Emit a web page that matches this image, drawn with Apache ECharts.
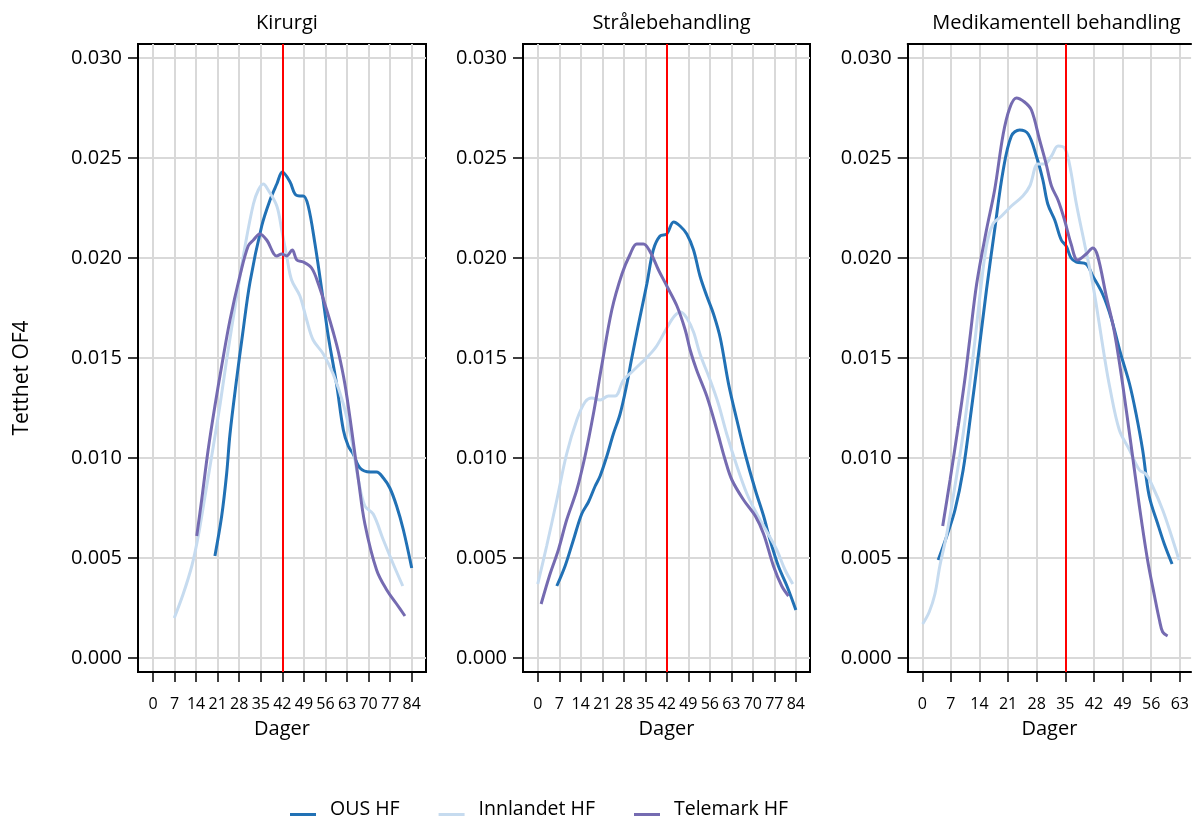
<!DOCTYPE html>
<html><head><meta charset="utf-8">
<script src="https://cdn.jsdelivr.net/npm/echarts@6/dist/echarts.min.js"></script>
<style>html,body{margin:0;padding:0;background:#fff}#chart{width:1192px;height:821px}</style>
</head><body><div id="chart"></div>
<script>
const panelTitles = ['Kirurgi', 'Strålebehandling', 'Medikamentell behandling'];
const seriesNames = ['OUS HF', 'Innlandet HF', 'Telemark HF'];
const seriesColors = ['#2171b5', '#c6dbef', '#756bb1'];
const xTicksWide = [0, 7, 14, 21, 28, 35, 42, 49, 56, 63, 70, 77, 84];
const xTicksNarrow = [0, 7, 14, 21, 28, 35, 42, 49, 56, 63];
const yTicks = [0, 0.005, 0.010, 0.015, 0.020, 0.025, 0.030];
const referenceDays = [42, 42, 35];
const xAxisName = 'Dager';
const yAxisName = 'Tetthet OF4';

// [dager, tetthet]
const kirurgiOUS = [[20.1,0.0051],[22.3,0.0071],[23.9,0.0092],[25,0.0112],[27.2,0.0140],[29.1,0.0162],[31.5,0.0188],[35.3,0.0216],[38,0.0229],[40.2,0.0237],[42,0.0243],[44.5,0.0238],[46.1,0.0232],[47.7,0.0231],[48.8,0.0231],[50.4,0.0226],[52.6,0.0207],[54.8,0.0184],[56.9,0.0161],[59.6,0.0137],[61.8,0.0114],[63.4,0.0106],[65,0.0102],[67.2,0.0095],[70.5,0.0093],[72.6,0.0093],[74.8,0.0090],[76.9,0.0085],[79.1,0.0076],[81.3,0.0064],[84,0.0045]];
const kirurgiInnlandet = [[6.9,0.0020],[9.8,0.0032],[12.6,0.0046],[14.7,0.0061],[16.9,0.0081],[19.6,0.0106],[21.8,0.0127],[23.9,0.0149],[27.2,0.0181],[29.9,0.0206],[32.6,0.0227],[34.2,0.0234],[35.8,0.0237],[37.4,0.0234],[40.2,0.0226],[41.8,0.0214],[43.4,0.0201],[45,0.0189],[47.7,0.0181],[49.9,0.0169],[52,0.0159],[55.3,0.0152],[58.5,0.0142],[61.8,0.0127],[64.5,0.0109],[66.7,0.0089],[68.8,0.0076],[71.5,0.0072],[74.8,0.0059],[78,0.0047],[81.1,0.0036]];
const kirurgiTelemark = [[14.2,0.0061],[15.8,0.0079],[17.9,0.0104],[20.1,0.0126],[22.3,0.0146],[25,0.0169],[28.2,0.0191],[30.9,0.0206],[32.6,0.0209],[34.7,0.0212],[36.9,0.0209],[40.2,0.0201],[41.8,0.0202],[43.4,0.0201],[45.2,0.0204],[46.7,0.0199],[48.8,0.0198],[51.5,0.0195],[53.7,0.0187],[56.4,0.0174],[58.5,0.0163],[60.2,0.0153],[62.3,0.0137],[64.5,0.0114],[66.7,0.0089],[68.8,0.0067],[72.6,0.0044],[75.9,0.0034],[79.1,0.0027],[81.8,0.0021]];

const straaleOUS = [[6.2,0.0036],[8.9,0.0046],[11.6,0.0059],[14.3,0.0072],[16.5,0.0078],[18.7,0.0086],[20.3,0.0091],[22.5,0.0101],[24.6,0.0112],[26.8,0.0122],[29,0.0137],[30.6,0.0150],[32.8,0.0167],[35.5,0.0187],[37.6,0.0204],[39.8,0.0211],[42,0.0212],[44.2,0.0218],[46.3,0.0216],[48.5,0.0212],[50.7,0.0204],[52.8,0.0191],[55,0.0181],[57.2,0.0172],[59.4,0.0160],[62.1,0.0137],[64.8,0.0119],[67.5,0.0102],[70.8,0.0084],[73.5,0.0071],[75.6,0.0059],[78.3,0.0046],[81.1,0.0036],[84,0.0024]];
const straaleInnlandet = [[0,0.0037],[2.9,0.0056],[6.2,0.0079],[9.4,0.0102],[12.7,0.0119],[15.4,0.0128],[17.6,0.0130],[20.3,0.0129],[23,0.0131],[25.2,0.0131],[27.9,0.0139],[30.6,0.0143],[33.3,0.0147],[36,0.0151],[38.7,0.0156],[42,0.0165],[44.5,0.0171],[46.5,0.0173],[48.5,0.0170],[50.7,0.0163],[52.8,0.0152],[56.1,0.0139],[58.8,0.0127],[61.5,0.0112],[64.8,0.0096],[68.1,0.0082],[71.3,0.0072],[74.6,0.0063],[77.8,0.0054],[80.5,0.0044],[83,0.0037]];
const straaleTelemark = [[1.1,0.0027],[4,0.0042],[6.7,0.0054],[9.4,0.0069],[12.7,0.0084],[15.4,0.0101],[18.1,0.0122],[20.8,0.0146],[24.1,0.0174],[27.4,0.0192],[30.1,0.0202],[32.2,0.0207],[34.4,0.0207],[36.6,0.0203],[39.3,0.0194],[42,0.0186],[45.3,0.0176],[48,0.0164],[49.6,0.0154],[51.7,0.0144],[55,0.0131],[58.3,0.0114],[61,0.0099],[63.2,0.0089],[67,0.0079],[70.8,0.0071],[73.5,0.0062],[76.7,0.0046],[79.4,0.0036],[81.6,0.0031]];

const medikOUS = [[3.9,0.0049],[6,0.0061],[8,0.0074],[10,0.0094],[12,0.0124],[13.7,0.0151],[15.7,0.0184],[17.7,0.0214],[19.8,0.0244],[21.8,0.0261],[23.8,0.0264],[25.9,0.0262],[27.9,0.0251],[29.5,0.0239],[30.7,0.0227],[32.4,0.0219],[34,0.0209],[35.2,0.0206],[36.4,0.0200],[37.7,0.0198],[40.1,0.0197],[41.7,0.0191],[44.1,0.0182],[46.2,0.0170],[48.4,0.0153],[50.7,0.0137],[52.3,0.0122],[53.9,0.0104],[55.5,0.0081],[57.6,0.0067],[59.2,0.0057],[61.1,0.0047]];
const medikInnlandet = [[0.1,0.0017],[1.7,0.0023],[3.1,0.0032],[4.3,0.0046],[6,0.0062],[8,0.0086],[10,0.0112],[11.6,0.0137],[12.9,0.0159],[14.1,0.0181],[15.7,0.0206],[17.3,0.0217],[19.4,0.0221],[21.8,0.0226],[24.6,0.0231],[26.3,0.0236],[28.3,0.0247],[29.9,0.0247],[31.6,0.0251],[33.2,0.0256],[34.8,0.0255],[36,0.0247],[37.7,0.0227],[39.7,0.0207],[41.7,0.0187],[43.3,0.0167],[44.6,0.0150],[45.8,0.0136],[48.2,0.0114],[50.7,0.0104],[53.1,0.0094],[54.7,0.0092],[56.3,0.0086],[58.8,0.0074],[60.8,0.0062],[62.8,0.0049]];
const medikTelemark = [[5,0.0066],[6.8,0.0089],[8.8,0.0116],[10.4,0.0139],[11.6,0.0159],[13.3,0.0187],[15.7,0.0214],[17.7,0.0234],[19.8,0.0262],[21.4,0.0275],[23,0.0280],[25,0.0278],[26.7,0.0274],[28.7,0.0259],[30.3,0.0247],[31.6,0.0236],[33.2,0.0229],[34.8,0.0219],[36.4,0.0207],[38,0.0199],[40.1,0.0202],[41.7,0.0205],[42.9,0.0201],[45,0.0181],[46.6,0.0167],[47.5,0.0157],[49,0.0137],[51.1,0.0106],[53.1,0.0076],[55.1,0.0049],[56.8,0.0031],[58,0.0019],[58.8,0.0013],[60,0.0011]];

const panelData = [
  [kirurgiOUS, kirurgiInnlandet, kirurgiTelemark],
  [straaleOUS, straaleInnlandet, straaleTelemark],
  [medikOUS, medikInnlandet, medikTelemark]
];
const panelXTicks = [xTicksWide, xTicksWide, xTicksNarrow];

const FONT = "'Open Sans', 'Liberation Sans', sans-serif";
const grids = [
  { left: 138, top: 44, width: 288, height: 628 },
  { left: 523, top: 44, width: 287, height: 628 },
  { left: 907.7, top: 44, width: 284.3, height: 628 }
];
const gridFrame = [true, true, false];
const titleCenters = [282, 666.5, 1051.5];
const xRanges = [[-4.87, 88.64], [-4.8, 88.6], [-3.56, 65.75]];
const yRange = [-0.0007, 0.0307];

const xAxes = grids.map((g, i) => ({
  type: 'value', gridIndex: i,
  min: xRanges[i][0], max: xRanges[i][1],
  name: xAxisName, nameLocation: 'middle', nameGap: 47,
  nameTextStyle: { fontFamily: FONT, fontSize: 20, color: '#000' },
  axisLine: { show: true, onZero: false, lineStyle: { color: '#000', width: 2 } },
  axisTick: { show: true, inside: false, length: 10, customValues: panelXTicks[i], lineStyle: { color: '#000', width: 1.5 } },
  axisLabel: { show: true, customValues: panelXTicks[i], margin: 24, fontFamily: FONT, fontSize: 16, color: '#000' },
  splitLine: { show: true, lineStyle: { color: '#d9d9d9', width: 2 } }
}));
// top border line of the third (cut-off) panel
xAxes.push({
  type: 'value', gridIndex: 2, position: 'top',
  min: xRanges[2][0], max: xRanges[2][1],
  axisLine: { show: true, onZero: false, lineStyle: { color: '#000', width: 2 } },
  axisTick: { show: false }, axisLabel: { show: false }, splitLine: { show: false }
});

const option = {
  animation: false,
  backgroundColor: '#ffffff',
  textStyle: { fontFamily: FONT },
  title: panelTitles.map((t, i) => ({
    text: t,
    left: titleCenters[i],
    top: 8,
    textAlign: 'center',
    textStyle: { fontFamily: FONT, fontSize: 20, fontWeight: 'normal', color: '#000' }
  })),
  grid: grids.map((g, i) => Object.assign({ show: gridFrame[i], borderColor: '#000', borderWidth: 2, backgroundColor: 'transparent', containLabel: false }, g)),
  xAxis: xAxes,
  yAxis: grids.map((g, i) => ({
    type: 'value', gridIndex: i,
    min: yRange[0], max: yRange[1],
    axisLine: { show: true, onZero: false, lineStyle: { color: '#000', width: 2 } },
    axisTick: { show: true, inside: false, length: 10, customValues: yTicks, lineStyle: { color: '#000', width: 1.5 } },
    axisLabel: { show: true, customValues: yTicks, margin: 16, fontFamily: FONT, fontSize: 20, color: '#000',
      formatter: v => v.toFixed(3) },
    splitLine: { show: true, lineStyle: { color: '#d9d9d9', width: 2 } }
  })),
  legend: {
    data: seriesNames,
    left: 290, top: 799, padding: 0,
    itemGap: 39, itemWidth: 26, itemHeight: 14,
    icon: 'path://M0,0 L26,0 L26,0.001 Z M0,11 L26,11 L26,14 L0,14 Z',
    textStyle: { fontFamily: FONT, fontSize: 19.5, color: '#000', padding: [0, 0, 0, 9] }
  },
  graphic: [{
    type: 'text', x: 22, y: 378, rotation: Math.PI / 2,
    style: { text: yAxisName, align: 'center', verticalAlign: 'middle', fontFamily: FONT, fontSize: 21, fill: '#000' }
  }],
  series: []
};

panelData.forEach((group, p) => {
  group.forEach((data, s) => {
    const ser = {
      type: 'line', name: seriesNames[s], xAxisIndex: p, yAxisIndex: p,
      data: data, showSymbol: false, symbol: 'none', smooth: 0.35,
      lineStyle: { color: seriesColors[s], width: 3 },
      itemStyle: { color: seriesColors[s] },
      z: 3 + s
    };
    if (s === 0) {
      ser.markLine = {
        silent: true, symbol: ['none', 'none'], label: { show: false },
        lineStyle: { color: '#ff0000', width: 2, type: 'solid' },
        data: [{ xAxis: referenceDays[p] }]
      };
    }
    option.series.push(ser);
  });
});

const chart = echarts.init(document.getElementById('chart'), null, { renderer: 'canvas' });
chart.setOption(option);
</script>
</body></html>
